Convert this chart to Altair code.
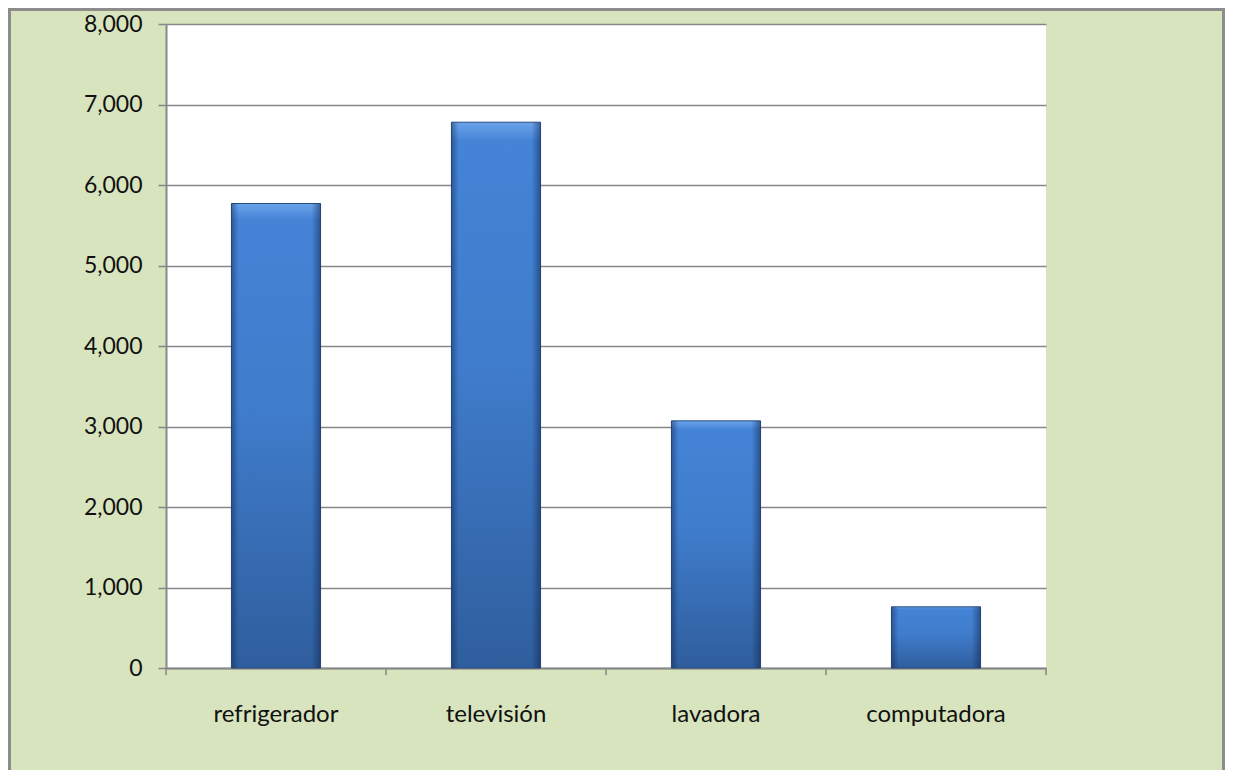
import altair as alt
import pandas as pd

categories = ["refrigerador", "televisión", "lavadora", "computadora"]
values = [5770, 6780, 3070, 760]
y_ticks = [0, 1000, 2000, 3000, 4000, 5000, 6000, 7000, 8000]

df = pd.DataFrame({"cat": categories, "val": values})

FONT = "Lato"
GRAY = "#878787"
PAD_INNER = 0.595

bar_fill = alt.Gradient(
    gradient="linear",
    stops=[
        alt.GradientStop(color="#6aa3ea", offset=0),
        alt.GradientStop(color="#4483d6", offset=0.035),
        alt.GradientStop(color="#3f7ccb", offset=0.45),
        alt.GradientStop(color="#2f5e9d", offset=1),
    ],
    x1=0, x2=0, y1=0, y2=1,
)

edge_fill = alt.Gradient(
    gradient="linear",
    stops=[
        alt.GradientStop(color="rgba(15,35,75,0.45)", offset=0),
        alt.GradientStop(color="rgba(15,35,75,0.0)", offset=0.08),
        alt.GradientStop(color="rgba(15,35,75,0.0)", offset=0.9),
        alt.GradientStop(color="rgba(15,35,75,0.5)", offset=1),
    ],
    x1=0, x2=1, y1=0, y2=0,
)

x_scale = alt.Scale(paddingInner=PAD_INNER, paddingOuter=PAD_INNER / 2)

x_axis = alt.Axis(
    title=None,
    labelAngle=0,
    labelFont=FONT,
    labelFontSize=24,
    labelColor="#111111",
    labelPadding=34,
    ticks=False,
    domainColor=GRAY,
    domainWidth=2,
    grid=False,
)

y_enc = alt.Y(
    "val:Q",
    scale=alt.Scale(domain=[0, 8000], nice=False),
    axis=alt.Axis(
        title=None,
        values=y_ticks,
        format=",.0f",
        labelFont=FONT,
        labelFontSize=23,
        labelColor="#111111",
        labelPadding=16,
        tickSize=8,
        tickColor=GRAY,
        tickWidth=1.5,
        domainColor=GRAY,
        domainWidth=2,
        grid=True,
        gridColor=GRAY,
        gridWidth=1.5,
    ),
)

x_enc = alt.X("cat:N", sort=categories, scale=x_scale, axis=x_axis)

bars = alt.Chart(df).mark_bar(
    fill=bar_fill, stroke="#264d80", strokeWidth=1
).encode(x=x_enc, y=y_enc)

edges = alt.Chart(df).mark_bar(fill=edge_fill).encode(x=x_enc, y=alt.Y("val:Q"))

# category separator ticks below the x axis, at band edges (half a step from centre)
half_step = f"bandwidth('x')/(2*(1-{PAD_INNER}))"
ticks_left = alt.Chart(df).mark_rule(
    color=GRAY, strokeWidth=1.5, xOffset=alt.ExprRef("-" + half_step)
).encode(x=x_enc, y=alt.value(644), y2=alt.value(651))
ticks_end = alt.Chart(df).transform_filter(
    alt.datum.cat == categories[-1]
).mark_rule(
    color=GRAY, strokeWidth=1.5, xOffset=alt.ExprRef(half_step)
).encode(x=x_enc, y=alt.value(644), y2=alt.value(651))

border = alt.Chart(pd.DataFrame({"k": [0]})).mark_rect(
    fill=None, stroke="#8c8c8c", strokeWidth=3
).encode(
    x=alt.value(-156.5),
    x2=alt.value(1057.5),
    y=alt.value(-14.5),
    y2=alt.value(820),
)

chart = alt.layer(border, bars, edges, ticks_left, ticks_end).properties(
    width=880,
    height=644,
    autosize="none",
    padding={"left": 158, "top": 16, "right": 179, "bottom": 102},
    background="#d8e4bd",
).configure_view(fill="white", stroke=None)

chart.save("out.html", embed_options={"renderer": "svg", "actions": False})
